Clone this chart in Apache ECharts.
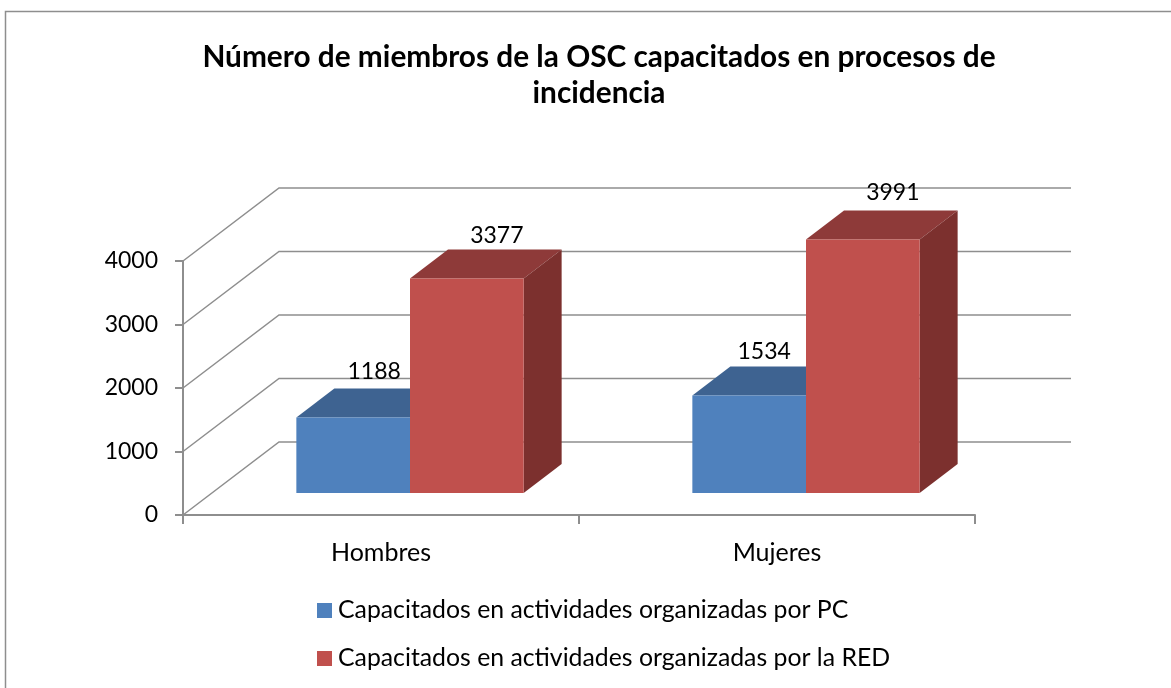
<!DOCTYPE html>
<html>
<head>
<meta charset="utf-8">
<style>
    html, body { margin: 0; padding: 0; background: #fff; }
    #chart { width: 1171px; height: 688px; }
</style>
<script src="https://cdn.jsdelivr.net/npm/echarts@6/dist/echarts.min.js"></script>
</head>
<body>
<div id="chart"></div>
<script>
    var titleText = 'Número de miembros de la OSC capacitados en procesos de\nincidencia';
    var categories = ['Hombres', 'Mujeres'];
    var yTicks = [0, 1000, 2000, 3000, 4000];
    var seriesPC = [1188, 1534];
    var seriesRED = [3377, 3991];
    var namePC = 'Capacitados en actividades organizadas por PC';
    var nameRED = 'Capacitados en actividades organizadas por la RED';

    var FONT = 'Lato';
    var LINE = '#8e8e8e';
    var WALL = {x: 96, y: -73};   // depth of the back wall
    var BASE = {x: 29, y: -22};   // bars stand a bit inside the floor
    var DEPTH = {x: 38, y: -29};  // depth of one bar

    function gridWall(params, api) {
        var p = api.coord([0, api.value(1)]);
        var x0 = params.coordSys.x;
        var x1 = x0 + params.coordSys.width;
        return {
            type: 'polyline',
            silent: true,
            shape: {points: [[x0, p[1]], [x0 + WALL.x, p[1] + WALL.y], [x1 + WALL.x, p[1] + WALL.y]]},
            style: {stroke: LINE, lineWidth: 1.5, fill: null}
        };
    }

    function bar3d(side, colors, shifts) {
        return function (params, api) {
            var i = api.value(0);
            var top = api.coord([i, api.value(1)]);
            var bottom = api.coord([i, 0]);
            var w = api.size([1, 0])[0] * 0.287;
            var x0 = top[0] + BASE.x + (side < 0 ? -w : 0);
            var x1 = x0 + w;
            var y0 = top[1] + BASE.y;
            var y1 = bottom[1] + BASE.y;
            var dx = DEPTH.x, dy = DEPTH.y;
            return {
                type: 'group',
                children: [
                    {type: 'polygon', silent: true, shape: {points: [[x0, y0], [x1, y0], [x1 + dx, y0 + dy], [x0 + dx, y0 + dy]]}, style: {fill: colors[1]}},
                    {type: 'polygon', silent: true, shape: {points: [[x1, y0], [x1 + dx, y0 + dy], [x1 + dx, y1 + dy], [x1, y1]]}, style: {fill: colors[2]}},
                    {type: 'rect', silent: true, shape: {x: x0, y: y0, width: w, height: y1 - y0}, style: {fill: colors[0]}},
                    {type: 'text', silent: true, z2: 100, style: {
                        text: String(api.value(1)),
                        x: (x0 + x1) / 2 + shifts[i][0],
                        y: y0 + shifts[i][1],
                        align: 'center',
                        verticalAlign: 'middle',
                        fontFamily: FONT,
                        fontSize: 23,
                        fill: '#000'
                    }}
                ]
            };
        };
    }

    var chart = echarts.init(document.getElementById('chart'));
    var option = {
        animation: false,
        backgroundColor: '#fff',
        title: {
            text: titleText,
            left: 594,
            top: 34,
            textAlign: 'center',
            textStyle: {fontFamily: FONT, fontWeight: 'bold', fontSize: 29.8, lineHeight: 36, color: '#000'}
        },
        legend: {
            orient: 'vertical',
            left: 312,
            top: 593,
            itemWidth: 15,
            itemHeight: 15,
            itemGap: 23,
            icon: 'rect',
            data: [namePC, nameRED],
            textStyle: {fontFamily: FONT, fontSize: 24.8, color: '#000', padding: [0, 0, 0, 1]}
        },
        grid: {left: 183, right: 196, top: 261, bottom: 173},
        xAxis: {
            type: 'category',
            data: categories,
            axisLine: {lineStyle: {color: LINE, width: 2}},
            axisTick: {show: true, length: 9, lineStyle: {color: LINE, width: 2}},
            axisLabel: {fontFamily: FONT, fontSize: 25, color: '#000', margin: 25},
            splitLine: {show: false}
        },
        yAxis: {
            type: 'value',
            min: yTicks[0],
            max: yTicks[yTicks.length - 1],
            interval: 1000,
            axisLine: {show: true, lineStyle: {color: LINE, width: 2}},
            axisTick: {show: true, length: 8, lineStyle: {color: LINE, width: 2}},
            axisLabel: {fontFamily: FONT, fontSize: 23, color: '#000', margin: 25, padding: [2, 0, 0, 0], formatter: function (v) { return String(v); }},
            splitLine: {show: false}
        },
        series: [
            {
                type: 'custom',
                name: 'wall',
                coordinateSystem: 'cartesian2d',
                renderItem: gridWall,
                encode: {x: 0, y: 1},
                data: yTicks.map(function (t) { return [0, t]; }),
                z: 1
            },
            {
                type: 'custom',
                name: namePC,
                coordinateSystem: 'cartesian2d',
                renderItem: bar3d(-1, ['#4f81bd', '#3e6391', '#34527a'], [[21, -46], [15, -44]]),
                encode: {x: 0, y: 1},
                itemStyle: {color: '#4f81bd'},
                data: seriesPC.map(function (v, i) { return [i, v]; }),
                z: 2
            },
            {
                type: 'custom',
                name: nameRED,
                coordinateSystem: 'cartesian2d',
                renderItem: bar3d(1, ['#c0504d', '#8e3a39', '#7c302e'], [[30, -43], [30, -47]]),
                encode: {x: 0, y: 1},
                itemStyle: {color: '#c0504d'},
                data: seriesRED.map(function (v, i) { return [i, v]; }),
                z: 3
            }
        ],
        graphic: [{
            type: 'rect',
            silent: true,
            z: -1,
            shape: {x: 5.5, y: 11.5, width: 1200, height: 700},
            style: {fill: null, stroke: '#8e8e8e', lineWidth: 1.5}
        }]
    };
    chart.setOption(option);
</script>
</body>
</html>
